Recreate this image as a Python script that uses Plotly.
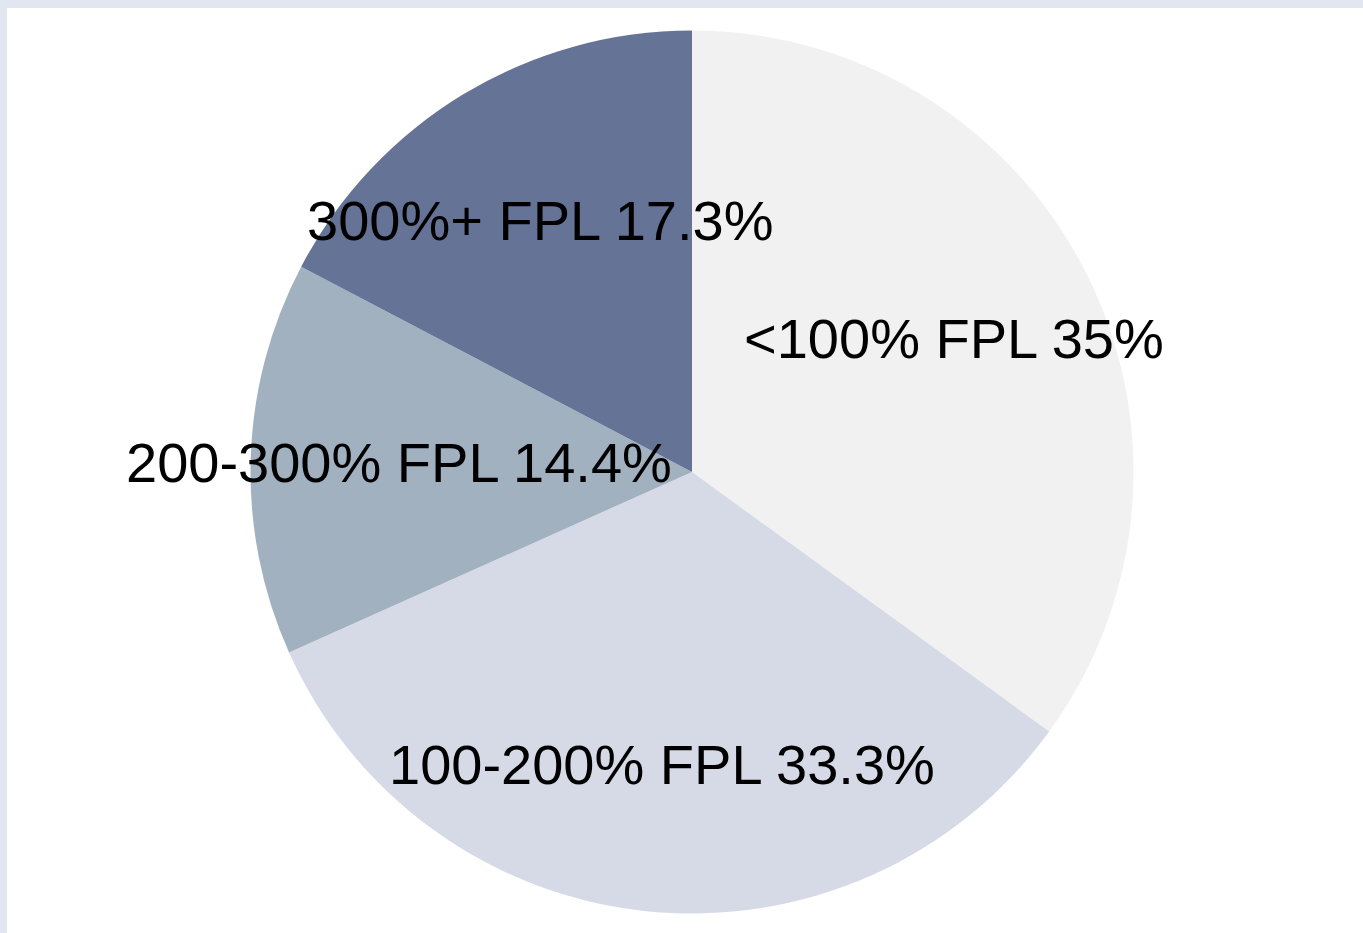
import math
import plotly.graph_objects as go

labels = ["<100% FPL", "100-200% FPL", "200-300% FPL", "300%+ FPL"]
values = [35.0, 33.3, 14.4, 17.3]
value_text = ["35%", "33.3%", "14.4%", "17.3%"]
colors = ["#F1F1F1", "#D6DAE7", "#A1B1C0", "#647396"]

W, H = 1363, 933
cx_px, cy_px, R = 692.0, 472.0, 441.5
label_r = 0.665

fig = go.Figure()
fig.add_trace(go.Pie(
    labels=labels,
    values=values,
    sort=False,
    direction="clockwise",
    rotation=0,
    marker=dict(colors=colors, line=dict(width=0)),
    textinfo="none",
    hoverinfo="label+percent",
    showlegend=False,
    domain=dict(x=[(cx_px - R) / W, (cx_px + R) / W],
                y=[(H - cy_px - R) / H, (H - cy_px + R) / H]),
))

annotations = []
total = sum(values)
cum = 0.0
for lab, v, vt in zip(labels, values, value_text):
    mid = (cum + v / 2) / total * 2 * math.pi
    cum += v
    x_px = cx_px + label_r * R * math.sin(mid)
    y_px = cy_px - label_r * R * math.cos(mid)
    annotations.append(dict(
        x=x_px / W, y=(H - y_px) / H, xref="paper", yref="paper",
        text=f"{lab} {vt}", showarrow=False,
        xanchor="center", yanchor="middle",
        font=dict(family="Liberation Sans, Arial, sans-serif", size=56, color="#000000"),
    ))

fig.update_layout(
    width=W, height=H,
    margin=dict(l=0, r=0, t=0, b=0),
    paper_bgcolor="#E1E6F0",
    plot_bgcolor="#FFFFFF",
    annotations=annotations,
    shapes=[dict(type="rect", xref="paper", yref="paper",
                 x0=7 / W, x1=1.0, y0=0.0, y1=(H - 8) / H,
                 fillcolor="#FFFFFF", line=dict(width=0), layer="below")],
)

fig.write_html(
    "out.html",
    config={"displayModeBar": False},
    post_script="document.body.style.margin='0';document.body.style.overflow='hidden';",
)
